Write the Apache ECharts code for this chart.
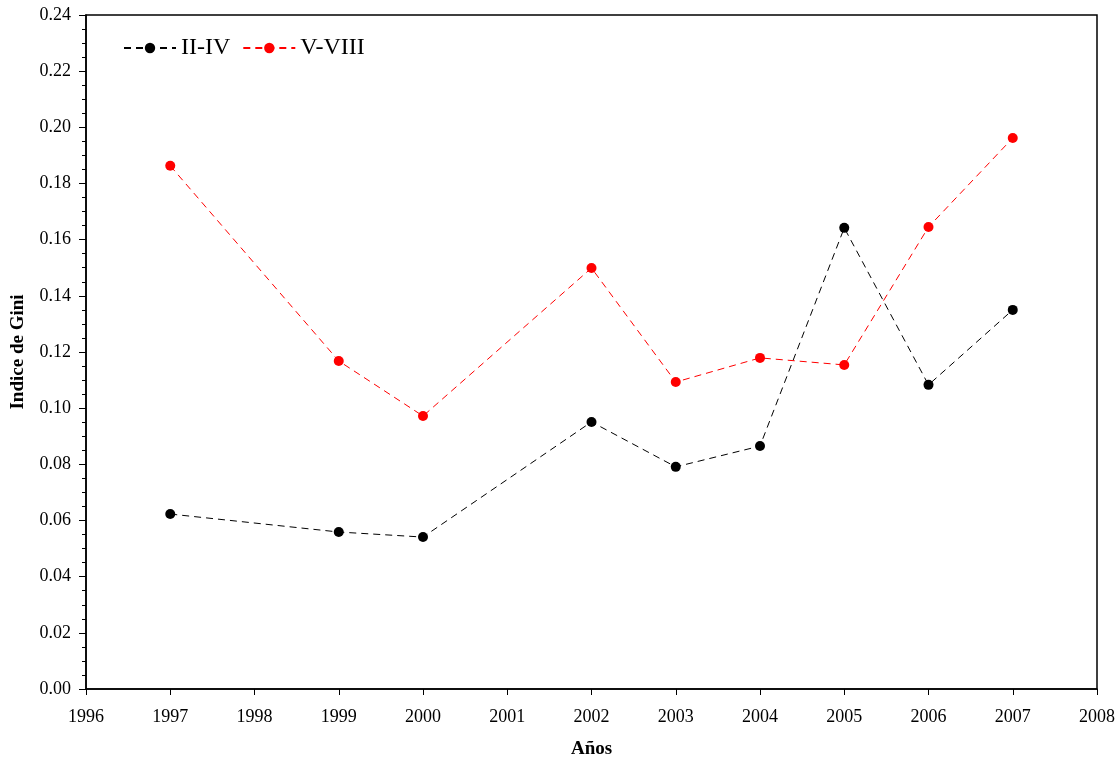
<!DOCTYPE html>
<html>
<head>
<meta charset="utf-8">
<script src="https://cdn.jsdelivr.net/npm/echarts@6/dist/echarts.min.js"></script>
<style>
  html, body { margin: 0; padding: 0; background: #fff; }
  #chart { width: 1117px; height: 759px; }
</style>
</head>
<body>
<div id="chart"></div>
<script>
// Years of each observation
const years = [1997, 1999, 2000, 2002, 2003, 2004, 2005, 2006, 2007];
// Gini index, regions II-IV
const giniIIIV = [0.0623, 0.0559, 0.0541, 0.0951, 0.0791, 0.0865, 0.1642, 0.1083, 0.1350];
// Gini index, regions V-VIII
const giniVVIII = [0.1863, 0.1168, 0.0972, 0.1499, 0.1093, 0.1179, 0.1154, 0.1645, 0.1962];

const seriesNames = ['II-IV', 'V-VIII'];
const seriesColors = ['#000000', '#ff0000'];

const font = '"Liberation Serif", "Times New Roman", serif';

const pairs = (vals) => years.map((y, i) => [y, vals[i]]);

const chart = echarts.init(document.getElementById('chart'));
chart.setOption({
  animation: false,
  backgroundColor: '#ffffff',
  grid: { left: 86, right: 20, top: 15, bottom: 70, containLabel: false,
          outerBoundsMode: 'none',
          show: true, borderColor: '#000', borderWidth: 1.5, backgroundColor: 'transparent' },
  legend: {
    left: 118, top: 31,
    itemWidth: 52, itemHeight: 13, itemGap: 12,
    textStyle: { fontFamily: font, fontSize: 24, color: '#000' },
    data: seriesNames
  },
  xAxis: {
    type: 'value', min: 1996, max: 2008, interval: 1,
    name: 'Años', nameLocation: 'middle', nameGap: 51,
    nameTextStyle: { fontFamily: font, fontSize: 19, fontWeight: 'bold', color: '#000' },
    axisLine: { show: true, lineStyle: { color: '#000', width: 1.5 } },
    axisTick: { show: true, inside: false, length: 6, lineStyle: { color: '#000' } },
    axisLabel: { fontFamily: font, fontSize: 18, color: '#000', margin: 19,
                 formatter: (v) => String(v) },
    splitLine: { show: false }
  },
  yAxis: {
    type: 'value', min: 0, max: 0.24, interval: 0.02,
    name: 'Indice de Gini', nameLocation: 'middle', nameGap: 58, nameRotate: 90,
    nameTextStyle: { fontFamily: font, fontSize: 19, fontWeight: 'bold', color: '#000' },
    axisLine: { show: true, lineStyle: { color: '#000', width: 1.5 } },
    axisTick: { show: true, inside: false, length: 7, lineStyle: { color: '#000' } },
    minorTick: { show: true, splitNumber: 4, length: 4, lineStyle: { color: '#000' } },
    axisLabel: { fontFamily: font, fontSize: 18, color: '#000', margin: 15,
                 formatter: (v) => v.toFixed(2) },
    splitLine: { show: false }
  },
  series: [
    {
      name: seriesNames[0], type: 'line', data: pairs(giniIIIV),
      symbol: 'circle', symbolSize: 10,
      itemStyle: { color: seriesColors[0] },
      lineStyle: { color: seriesColors[0], width: 1, type: [7, 5] }
    },
    {
      name: seriesNames[1], type: 'line', data: pairs(giniVVIII),
      symbol: 'circle', symbolSize: 10,
      itemStyle: { color: seriesColors[1] },
      lineStyle: { color: seriesColors[1], width: 1, type: [7, 5] }
    }
  ]
});
</script>
</body>
</html>
